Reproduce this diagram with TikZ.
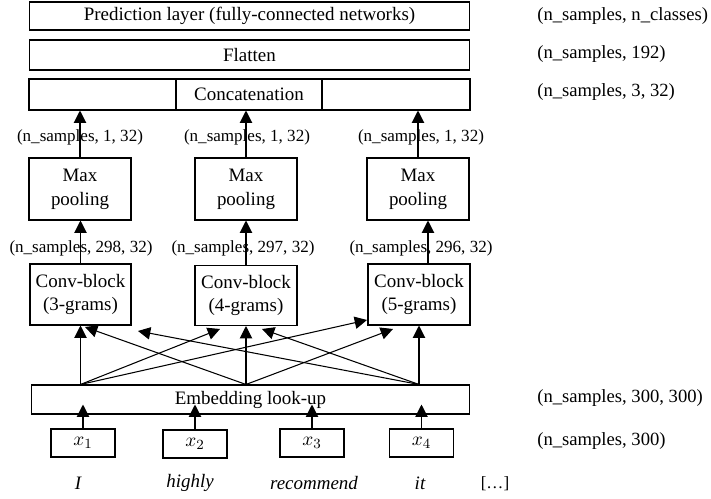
\documentclass[tikz,border=0pt]{standalone}
\usepackage{fontspec}
\setmainfont{Liberation Serif}
\usetikzlibrary{arrows.meta,calc}

\begin{document}
\begin{tikzpicture}[x=0.02cm,y=-0.02cm,
    box/.style={draw,line width=0.6pt,inner sep=0pt,align=center,font=\fontsize{10.8}{13.6}\selectfont},
    lbl/.style={inner sep=0pt,font=\fontsize{9.7}{12}\selectfont},
    side/.style={inner sep=0pt,anchor=west,font=\fontsize{10.6}{12}\selectfont},
    word/.style={inner sep=0pt,font=\fontsize{10.8}{12}\selectfont\itshape},
    arr/.style={line width=0.6pt,-{Triangle[length=7pt,width=7pt]}}]
    \useasboundingbox (0,0) rectangle (711,499);
    \node[box,minimum width=8.82cm,minimum height=0.56cm] (pred) at (249.5,16) {Prediction layer (fully-connected networks)};
    \node[box,minimum width=8.82cm,minimum height=0.6cm] (flat) at (249.5,55) {Flatten};
    \node[box,minimum width=2.94cm,minimum height=0.62cm] (cat1) at (102.5,94.5) {};
    \node[box,minimum width=2.92cm,minimum height=0.62cm] (cat2) at (249,94.5) {Concatenation};
    \node[box,minimum width=2.96cm,minimum height=0.62cm] (cat3) at (396,94.5) {};
    \node[box,minimum width=2.04cm,minimum height=1.24cm] (mp1) at (80,189) {Max\\pooling};
    \node[box,minimum width=2.04cm,minimum height=1.24cm] (mp2) at (246,189) {Max\\pooling};
    \node[box,minimum width=2.04cm,minimum height=1.24cm] (mp3) at (418,189) {Max\\pooling};
    \node[box,minimum width=2.02cm,minimum height=1.22cm] (cv1) at (80.5,294.5) {Conv-block\\(3-grams)};
    \node[box,minimum width=2.04cm,minimum height=1.2cm] (cv2) at (246,295.5) {Conv-block\\(4-grams)};
    \node[box,minimum width=2.04cm,minimum height=1.22cm] (cv3) at (419,294.5) {Conv-block\\(5-grams)};
    \node[box,minimum width=8.78cm,minimum height=0.58cm] (emb) at (250.5,399.5) {Embedding look-up};
    \node[box,minimum width=1.28cm,minimum height=0.56cm] (x1) at (83,443) {$x_1$};
    \node[box,minimum width=1.28cm,minimum height=0.56cm] (x2) at (195,444) {$x_2$};
    \node[box,minimum width=1.28cm,minimum height=0.56cm] (x3) at (312,443) {$x_3$};
    \node[box,minimum width=1.28cm,minimum height=0.56cm] (x4) at (421.5,443) {$x_4$};
    \node[word] (w1) at (78,483) {I};
    \node[word] (w2) at (190,483) {highly};
    \node[word] (w3) at (314,483) {recommend};
    \node[word] (w4) at (420,483) {it};
    \node[lbl] (w5) at (495,484) {[\ldots]};
    \node[side] (s1) at (537,16) {(n\_samples, n\_classes)};
    \node[side] (s2) at (537,54) {(n\_samples, 192)};
    \node[side] (s3) at (537,92) {(n\_samples, 3, 32)};
    \node[side] (s4) at (537,398) {(n\_samples, 300, 300)};
    \node[side] (s5) at (537,441) {(n\_samples, 300)};
    \node[lbl] (p1) at (80,137) {(n\_samples, 1, 32)};
    \node[lbl] (p2) at (247,137) {(n\_samples, 1, 32)};
    \node[lbl] (p3) at (421,137) {(n\_samples, 1, 32)};
    \node[lbl] (c1) at (81,248) {(n\_samples, 298, 32)};
    \node[lbl] (c2) at (243,248) {(n\_samples, 297, 32)};
    \node[lbl] (c3) at (421,248) {(n\_samples, 296, 32)};
    \draw[arr] (mp1.north) -- (mp1.north |- cat1.south);
    \draw[arr] (mp2.north) -- (mp2.north |- cat2.south);
    \draw[arr] (mp3.north) -- (mp3.north |- cat3.south);
    \draw[arr] (cv1.north) -- (cv1.north |- mp1.south);
    \draw[arr] (cv2.north) -- (cv2.north |- mp2.south);
    \draw[arr] ([xshift=0.18cm]cv3.north) -- ([xshift=0.18cm]cv3.north |- mp3.south);
    \coordinate (e1) at (emb.north -| cv1.south);
    \coordinate (e2) at (emb.north -| cv2.south);
    \coordinate (e3) at (emb.north -| cv3.south);
    \coordinate (t12) at (220,329);
    \coordinate (t13) at (367,320);
    \coordinate (t21) at (85,327);
    \coordinate (t23) at (393,329);
    \coordinate (t31) at (138,331);
    \coordinate (t32) at (262,329);
    \draw[arr] (e1) -- (cv1.south);
    \draw[arr] (e2) -- (cv2.south);
    \draw[arr] (e3) -- (cv3.south);
    \draw[arr] (e1) -- (t12);
    \draw[arr] (e1) -- (t13);
    \draw[arr] (e2) -- (t21);
    \draw[arr] (e2) -- (t23);
    \draw[arr] (e3) -- (t31);
    \draw[arr] (e3) -- (t32);
    \draw[arr] (x1.north) -- ($(x1.north |- emb.south)+(0,-10)$);
    \draw[arr] (x2.north) -- ($(x2.north |- emb.south)+(0,-10)$);
    \draw[arr] (x3.north) -- ($(x3.north |- emb.south)+(0,-10)$);
    \draw[arr] (x4.north) -- ($(x4.north |- emb.south)+(0,-10)$);
\end{tikzpicture}
\end{document}
